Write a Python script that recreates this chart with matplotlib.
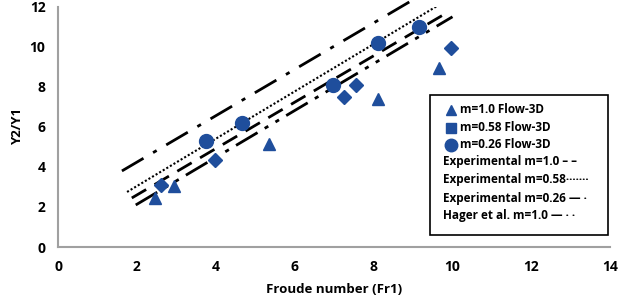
import matplotlib
matplotlib.use("Agg")
import matplotlib.pyplot as plt
from matplotlib.patches import Rectangle

plt.rcParams['font.family'] = ['Open Sans', 'DejaVu Sans']
plt.rcParams['font.weight'] = 'bold'

# Flow-3D results
fr_m10 = [2.45, 2.95, 5.35, 8.1, 9.67]
y_m10 = [2.45, 3.05, 5.15, 7.4, 8.95]

fr_m058 = [2.6, 3.98, 7.26, 7.56, 9.97]
y_m058 = [3.1, 4.35, 7.5, 8.1, 9.95]

fr_m026 = [3.76, 4.67, 6.96, 8.1, 9.14]
y_m026 = [5.3, 6.2, 8.1, 10.2, 11.0]

# experimental / empirical lines: start and end points
exp10_x = [1.87, 9.9]
exp10_y = [2.45, 11.75]
exp058_x = [1.75, 9.62]
exp058_y = [2.75, 12.05]
exp026_x = [1.62, 9.0]
exp026_y = [3.8, 12.35]
hager_x = [1.97, 10.0]
hager_y = [2.1, 11.5]

blue = '#1F4E9C'

fig = plt.figure(figsize=(6.24, 3.08), dpi=100)
ax = fig.add_axes([0.093, 0.198, 0.885, 0.78])

ax.plot(exp026_x, exp026_y, color='black', lw=2.0, dashes=(9, 4, 1.5, 4), clip_on=False)
ax.plot(exp058_x, exp058_y, color='black', lw=1.5, dashes=(1, 1))
ax.plot(exp10_x, exp10_y, color='black', lw=2.0, dashes=(6, 3.5))
ax.plot(hager_x, hager_y, color='black', lw=2.0, dashes=(9, 3, 1.5, 3, 1.5, 3))

ax.plot(fr_m10, y_m10, '^', color=blue, ms=9, ls='none')
ax.plot(fr_m058, y_m058, 'D', color=blue, ms=7, ls='none')
ax.plot(fr_m026, y_m026, 'o', color=blue, ms=10, ls='none')

ax.set_xlim(0, 14)
ax.set_ylim(0, 12)
ax.set_xticks(range(0, 15, 2))
ax.set_yticks(range(0, 13, 2))
for s in ['top', 'right']:
    ax.spines[s].set_visible(False)
for s in ['left', 'bottom']:
    ax.spines[s].set_color('#A0A0A0')
    ax.spines[s].set_linewidth(1.5)
ax.tick_params(length=0, labelsize=10, pad=9)
ax.set_xlabel('Froude number (Fr1)', fontsize=9.5, fontweight='bold', labelpad=7)
ax.set_ylabel('Y2/Y1', fontsize=9.5, fontweight='bold', labelpad=4)

# hand-made legend box as in the original
ax.add_patch(Rectangle((0.674, 0.05), 0.321, 0.583, transform=ax.transAxes,
                       facecolor='white', edgecolor='black', lw=1.2, clip_on=False, zorder=5))
rows_y = [0.571, 0.496, 0.425, 0.354, 0.279, 0.204, 0.133]
markers = ['^', 's', 'o']
labels = ['m=1.0 Flow-3D', 'm=0.58 Flow-3D', 'm=0.26 Flow-3D',
          'Experimental m=1.0 \u2013 \u2013', 'Experimental m=0.58\u00b7\u00b7\u00b7\u00b7\u00b7\u00b7\u00b7',
          'Experimental m=0.26 \u2014 \u00b7', 'Hager et al. m=1.0 \u2014 \u00b7 \u00b7']
sizes = [7, 7, 9]
for i, (yy, lab) in enumerate(zip(rows_y, labels)):
    if i < 3:
        ax.plot([0.712], [yy], markers[i], color=blue, ms=sizes[i], transform=ax.transAxes,
                clip_on=False, zorder=6)
        ax.text(0.727, yy, lab, transform=ax.transAxes, fontsize=8.5, fontweight='bold',
                va='center', zorder=6)
    else:
        ax.text(0.697, yy, lab, transform=ax.transAxes, fontsize=8.5, fontweight='bold',
                va='center', zorder=6)

fig.savefig('out.png', dpi=100)
